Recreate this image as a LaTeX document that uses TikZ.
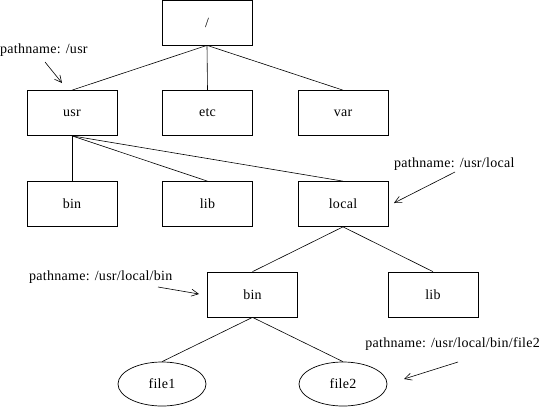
\documentclass[tikz,border=0pt]{standalone}
\usepackage{fontspec}
\setmainfont{Liberation Serif}[LetterSpace=2]
\usetikzlibrary{shapes.geometric,arrows.meta}
\begin{document}
\begin{tikzpicture}[x=1pt,y=-1pt,
  every node/.style={font=\fontsize{14}{16}\selectfont},
  dirbox/.style={draw,line width=0.7pt,minimum width=90pt,minimum height=45pt,inner sep=0pt},
  filenode/.style={draw,ellipse,line width=0.7pt,minimum width=88pt,minimum height=44pt,inner sep=0pt},
  edge/.style={line width=0.6pt},
  pointer/.style={line width=0.6pt,-{Straight Barb[length=7pt,width=7pt]}},
  note/.style={inner sep=0pt}]
\useasboundingbox (0,0) rectangle (541,408);
\node[dirbox] (root) at (207,22.5) {/};
\node[dirbox] (usr) at (72,113) {usr};
\node[dirbox] (etc) at (207.5,113) {etc};
\node[dirbox] (var) at (343,113) {var};
\node[dirbox] (bin) at (72,204) {bin};
\node[dirbox] (lib) at (207.5,204) {lib};
\node[dirbox] (local) at (343,204) {local};
\node[dirbox] (lbin) at (252.5,294.5) {bin};
\node[dirbox] (llib) at (433,294.5) {lib};
\node[filenode] (file1) at (162,384) {file1};
\node[filenode] (file2) at (343,384) {file2};
\draw[edge] (root.south) -- (usr.north);
\draw[edge] (root.south) -- (etc.north);
\draw[edge] (root.south) -- (var.north);
\draw[edge] (usr.south) -- (bin.north);
\draw[edge] (usr.south) -- (lib.north);
\draw[edge] (usr.south) -- (local.north);
\draw[edge] (local.south) -- (lbin.north);
\draw[edge] (local.south) -- (llib.north);
\draw[edge] (lbin.south) -- (file1.north);
\draw[edge] (lbin.south) -- (file2.north);
\node[note,anchor=base west] (n1) at (0,53) {pathname: /usr};
\node[note,anchor=base west] (n2) at (394,167) {pathname: /usr/local};
\node[note,anchor=base west] (n3) at (29,280) {pathname: /usr/local/bin};
\node[note,anchor=base east] (n4) at (540,347) {pathname: /usr/local/bin/file2};
\coordinate (a1s) at (45,62); \coordinate (a1e) at (62,83);
\coordinate (a2s) at (455,172); \coordinate (a2e) at (394,203);
\coordinate (a3s) at (158,287); \coordinate (a3e) at (199,294);
\coordinate (a4s) at (458,362); \coordinate (a4e) at (404,379);
\draw[pointer] (a1s) -- (a1e);
\draw[pointer] (a2s) -- (a2e);
\draw[pointer] (a3s) -- (a3e);
\draw[pointer] (a4s) -- (a4e);
\end{tikzpicture}
\end{document}
